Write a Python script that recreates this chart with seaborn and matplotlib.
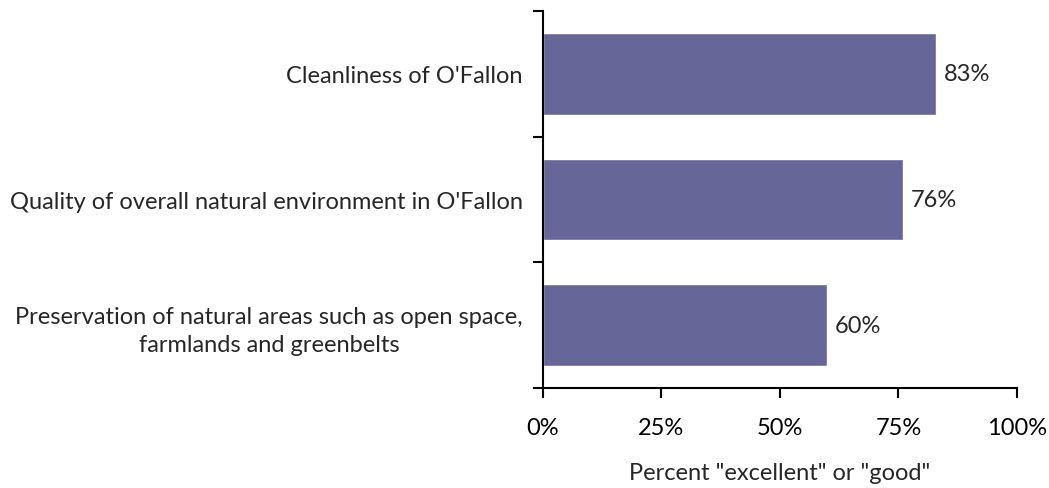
import pandas as pd
import matplotlib.pyplot as plt
import seaborn as sns
from matplotlib.ticker import FixedLocator

# values
items = [
    "Cleanliness of O'Fallon",
    "Quality of overall natural environment in O'Fallon",
    "Preservation of natural areas such as open space,\nfarmlands and greenbelts",
]
percent_good = [83, 76, 60]
x_ticks = [0, 25, 50, 75, 100]
x_tick_labels = ["0%", "25%", "50%", "75%", "100%"]

FS = 17


def main():
    sns.set_style("white")
    plt.rcParams["font.family"] = ["Lato", "DejaVu Sans"]

    df = pd.DataFrame({"item": items, "pct": percent_good})

    fig = plt.figure(figsize=(10.49, 4.89), dpi=100)
    ax = fig.add_axes([0.5176, 0.2045, 0.4519, 0.771])

    sns.barplot(data=df, x="pct", y="item", color="#666699", saturation=1,
                width=0.65, orient="h", ax=ax)

    for i, v in enumerate(percent_good):
        ax.text(v + 1.5, i, f"{v}%", va="center", ha="left", fontsize=FS)

    ax.set_xlim(0, 100)
    ax.set_ylim(2.5, -0.5)
    ax.set_xticks(x_ticks)
    ax.set_xticklabels(x_tick_labels, fontsize=FS)
    ax.tick_params(axis="x", bottom=True, length=7, width=1.5, direction="out",
                   pad=14, colors="black")

    # labels centred on bars, tick marks on the band edges
    ax.tick_params(axis="y", which="major", left=True, length=0, pad=14.5, labelsize=FS)
    ax.yaxis.set_minor_locator(FixedLocator([-0.5, 0.5, 1.5, 2.5]))
    ax.tick_params(axis="y", which="minor", left=True, length=7, width=1.5,
                   direction="out", colors="black")
    for lbl in ax.get_yticklabels():
        lbl.set_horizontalalignment("right")
        lbl.set_multialignment("center")
        lbl.set_linespacing(1.4)

    ax.set_ylabel("")
    ax.set_xlabel('Percent "excellent" or "good"', fontsize=FS, labelpad=17)

    for side in ["top", "right"]:
        ax.spines[side].set_visible(False)
    for side in ["left", "bottom"]:
        ax.spines[side].set_color("black")
        ax.spines[side].set_linewidth(1.5)

    fig.savefig("out.png", dpi=100)


if __name__ == "__main__":
    main()
